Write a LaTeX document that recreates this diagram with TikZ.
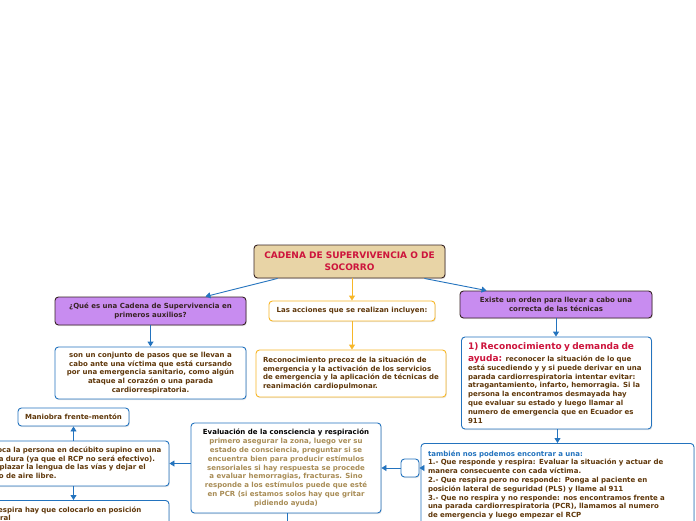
\documentclass[tikz,border=0pt]{standalone}
\usepackage{fontspec}
\setmainfont{DejaVu Sans}
\usetikzlibrary{positioning, arrows.meta, shadows}

\definecolor{mapblue}{RGB}{35,115,190}
\definecolor{maporange}{RGB}{247,183,40}
\definecolor{mappurple}{RGB}{200,140,240}
\definecolor{maptan}{RGB}{232,212,166}
\definecolor{mapbrown}{RGB}{95,55,10}
\definecolor{mapred}{RGB}{205,20,60}
\definecolor{mapolive}{RGB}{168,140,85}
\definecolor{mapdark}{RGB}{55,35,35}

\newcommand{\mapfont}{\fontsize{7}{8.8}\selectfont\bfseries}
\newcommand{\bigred}{\color{mapred}\fontsize{9}{11}\selectfont}

\begin{document}
\begin{tikzpicture}[
  x=1pt, y=1pt,
  box/.style={rounded corners=3.5pt, line width=0.9pt, inner sep=4pt,
    drop shadow={shadow xshift=0.8pt, shadow yshift=-1.2pt, opacity=.2,
      rounded corners=3.5pt}},
  titlebox/.style={box, draw=mapdark, fill=maptan, text=mapred, align=center,
    minimum width=191pt, minimum height=33pt, font=\fontsize{9}{12}\selectfont\bfseries},
  purpbox/.style={box, draw=mapdark, fill=mappurple, text=mapdark, align=center,
    minimum width=191pt, font=\mapfont},
  orbox/.style={box, draw=maporange, fill=white, text=mapbrown, font=\mapfont},
  bluebox/.style={box, draw=mapblue, fill=white, text=mapbrown, font=\mapfont},
  leftbox/.style={align=left, inner xsep=7pt, text width=#1-14pt},
  bluearr/.style={draw=mapblue, line width=0.9pt, -{Triangle[length=5pt,width=6pt]}},
  orarr/.style={draw=maporange, line width=0.9pt, -{Triangle[length=5pt,width=6pt]}}
]
  \useasboundingbox (0,0) rectangle (696,-520);
  \clip (0,0) rectangle (696,-520);
  \fill[white] (0,0) rectangle (696,-520);

  % centro
  \node[titlebox] (cadena) at (349.5,-261.5) {CADENA DE SUPERVIVENCIA O DE\\SOCORRO};

  % rama izquierda
  \node[purpbox, minimum height=28pt] (quees) at (150.5,-311)
    {¿Qué es una Cadena de Supervivencia en\\primeros auxilios?};
  \node[bluebox, align=center, minimum width=191pt, minimum height=52pt] (conjunto) at (150.5,-373)
    {son un conjunto de pasos que se llevan a\\cabo ante una víctima que está cursando\\por una emergencia sanitario, como algún\\ataque al corazón o una parada\\cardiorrespiratoria.};

  % rama central
  \node[orbox, minimum width=166pt, minimum height=20pt] (acciones) at (352,-311)
    {Las acciones que se realizan incluyen:};
  \node[orbox, leftbox=190pt, minimum height=47pt] (precoz) at (351,-373.5)
    {Reconocimiento precoz de la situación de\\emergencia y la activación de los servicios\\de emergencia y la aplicación de técnicas de\\reanimación cardiopulmonar.};

  % rama derecha
  \node[purpbox, minimum width=192pt, minimum height=27pt] (orden) at (556,-304.5)
    {Existe un orden para llevar a cabo una\\correcta de las técnicas};
  \node[bluebox, leftbox=191pt, inner xsep=6.5pt, minimum height=92pt] (ayuda) at (556.5,-383)
    {{\bigred 1) Reconocimiento y demanda de}\\[3pt]
     {\bigred ayuda:} reconocer la situación de lo que\\
     está sucediendo y y si puede derivar en una\\
     parada cardiorrespiratoria intentar evitar:\\
     atragantamiento, infarto, hemorragia. Si la\\
     persona la encontramos desmayada hay\\
     que evaluar su estado y luego llamar al\\
     numero de emergencia que en Ecuador es\\
     911};
  \node[bluebox, leftbox=273pt, inner ysep=7pt, anchor=north] (tambien) at (557.5,-443)
    {{\color{mapblue}también nos podemos encontrar a una:}\\
     1.- Que responde y respira: Evaluar la situación y actuar de\\
     manera consecuente con cada víctima.\\
     2.- Que respira pero no responde: Ponga al paciente en\\
     posición lateral de seguridad (PLS) y llame al 911\\
     3.- Que no respira y no responde: nos encontramos frente a\\
     una parada cardiorrespiratoria (PCR), llamamos al numero\\
     de emergencia y luego empezar el RCP};
  \node[bluebox, minimum width=18pt, minimum height=18pt, inner sep=0pt] (vacio) at (410,-468) {};

  % evaluacion
  \node[bluebox, align=center, text=mapolive, minimum width=190pt, minimum height=90pt] (evalua) at (286,-468)
    {{\color{black}Evaluación de la consciencia y respiración}\\
     primero asegurar la zona, luego ver su\\
     estado de consciencia, preguntar si se\\
     encuentra bien para producir estímulos\\
     sensoriales si hay respuesta se procede\\
     a evaluar hemorragias, fracturas. Sino\\
     responde a los estímulos puede que esté\\
     en PCR (si estamos solos hay que gritar\\
     pidiendo ayuda)};
  \coordinate (fuera) at (287,-560);

  \node[bluebox, leftbox=191pt, minimum height=45pt] (coloca) at (73.5,-463.5)
    {Coloca la persona en decúbito supino en una\\
     zona dura (ya que el RCP no será efectivo).\\
     Desplazar la lengua de las vías y dejar el\\
     paso de aire libre.};
  \node[bluebox, minimum width=111pt, minimum height=18pt] (maniobra) at (73.5,-417)
    {Maniobra frente-mentón};
  \node[bluebox, leftbox=191pt, inner ysep=6pt, anchor=north] (lateral) at (73.5,-500)
    {Si respira hay que colocarlo en posición\\lateral};

  % conectores
  \draw[bluearr] ([xshift=24pt]cadena.south west) -- ([xshift=-41pt]quees.north east);
  \draw[orarr] (acciones.north |- cadena.south) -- (acciones);
  \draw[bluearr] ([xshift=-21pt]cadena.south east) -- ([xshift=27pt]orden.north west);
  \draw[bluearr] (quees) -- (conjunto);
  \draw[orarr] (acciones) -- (precoz.north -| acciones.south);
  \draw[bluearr] (orden) -- (ayuda.north -| orden.south);
  \draw[bluearr] (ayuda.south -| tambien.north) -- (tambien);
  \draw[bluearr] (tambien.west |- vacio.east) -- (vacio);
  \draw[bluearr] (vacio) -- (evalua);
  \draw[bluearr] (evalua.west |- coloca.east) -- (coloca);
  \draw[bluearr] (coloca) -- (maniobra);
  \draw[bluearr] (coloca) -- (lateral);
  \draw[bluearr] (evalua.south -| fuera) -- (fuera);
\end{tikzpicture}
\end{document}
